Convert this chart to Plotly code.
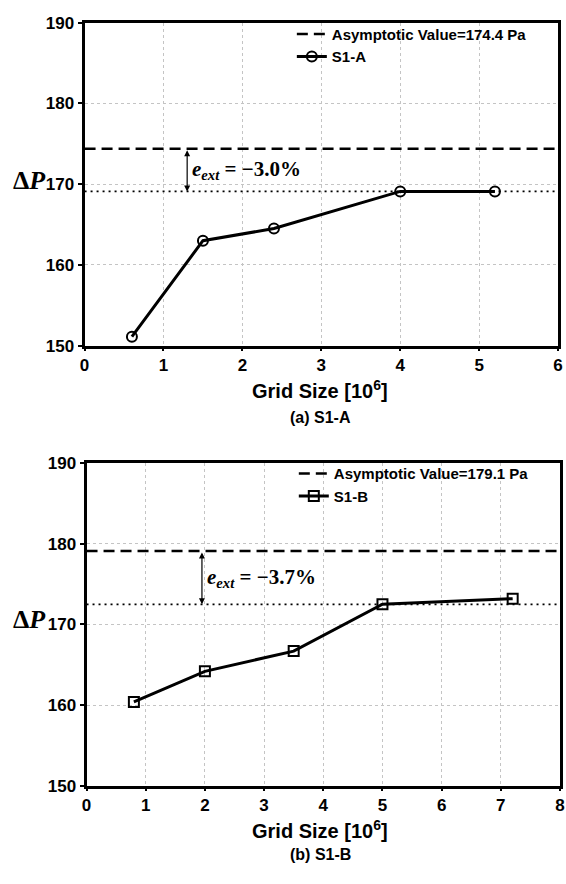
import plotly.graph_objects as go

# Grid convergence data, case S1-A
grid_a = [0.6, 1.5, 2.4, 4.0, 5.2]
dp_a = [151.1, 163.0, 164.5, 169.1, 169.1]
asym_a = 174.4
err_a = "−3.0%"

# Grid convergence data, case S1-B
grid_b = [0.8, 2.0, 3.5, 5.0, 7.2]
dp_b = [160.4, 164.2, 166.7, 172.5, 173.2]
asym_b = 179.1
err_b = "−3.7%"

xticks_a = [0, 1, 2, 3, 4, 5, 6]
xticks_b = [0, 1, 2, 3, 4, 5, 6, 7, 8]
yticks = [150, 160, 170, 180, 190]

arrow_x_a, arrow_x_b = 1.3, 1.95

SANS = "Liberation Sans, Arial, sans-serif"
SERIF = "Liberation Serif, Times New Roman, serif"

fig = go.Figure()


def add_panel(xs, ys, asym, xmax, name, symbol, msize, xa, ya, legend):
    fig.add_trace(go.Scatter(
        x=[0, xmax], y=[asym, asym], mode="lines",
        line=dict(color="black", width=2.5, dash="11px,6px"),
        name=f"<b>Asymptotic Value={asym} Pa</b>", xaxis=xa, yaxis=ya, legend=legend))
    fig.add_trace(go.Scatter(
        x=[0, xmax], y=[ys[-2], ys[-2]], mode="lines",
        line=dict(color="black", width=1.8, dash="2px,4px"),
        showlegend=False, xaxis=xa, yaxis=ya, hoverinfo="skip"))
    fig.add_trace(go.Scatter(
        x=xs, y=ys, mode="lines+markers", name=f"<b>{name}</b>",
        line=dict(color="black", width=3),
        marker=dict(symbol=symbol, size=msize, color="black",
                    line=dict(color="black", width=2)),
        xaxis=xa, yaxis=ya, legend=legend))


add_panel(grid_a, dp_a, asym_a, xticks_a[-1], "S1-A", "circle-open", 10, "x", "y", "legend")
add_panel(grid_b, dp_b, asym_b, xticks_b[-1], "S1-B", "square-open", 10, "x2", "y2", "legend2")

axis_common = dict(
    showline=True, linecolor="black", linewidth=3, mirror=True,
    showgrid=True, gridcolor="#c4c4c4", griddash="dot", gridwidth=1,
    ticks="outside", tickwidth=2, tickcolor="black",
    tickfont=dict(family=SANS, size=17, color="black"),
    zeroline=False,
)


def xaxis(ticks, dom, anchor):
    return dict(axis_common, domain=dom, range=[ticks[0], ticks[-1]], anchor=anchor,
                tickvals=ticks, ticktext=[f"<b>{t}</b>" for t in ticks], ticklen=2)


def yaxis(dom, anchor):
    return dict(axis_common, domain=dom, range=[yticks[0], yticks[-1]], anchor=anchor,
                tickvals=yticks, ticktext=[f"<b>{t}</b>" for t in yticks], ticklen=4)


legend_font = dict(family=SANS, size=15, color="black")

fig.update_layout(
    width=566, height=884,
    margin=dict(l=0, r=0, t=0, b=0),
    paper_bgcolor="white", plot_bgcolor="white",
    xaxis=xaxis(xticks_a, [81 / 566, 563 / 566], "y"),
    yaxis=yaxis([540 / 884, 870 / 884], "x"),
    xaxis2=xaxis(xticks_b, [83 / 566, 565 / 566], "y2"),
    yaxis2=yaxis([90 / 884, 420 / 884], "x2"),
    legend=dict(x=292 / 566, y=1 - 9 / 884, xanchor="left", yanchor="top",
                bgcolor="rgba(0,0,0,0)", tracegroupgap=0, font=legend_font),
    legend2=dict(x=294 / 566, y=1 - 458 / 884, xanchor="left", yanchor="top",
                 bgcolor="rgba(0,0,0,0)", tracegroupgap=0, font=legend_font),
    showlegend=True,
)

annotations = []
for xa, ya, ax_x, asym, ys, err in [
    ("x", "y", arrow_x_a, asym_a, dp_a, err_a),
    ("x2", "y2", arrow_x_b, asym_b, dp_b, err_b),
]:
    low = ys[-2]
    # double-headed arrow between the asymptote and the converged value
    annotations.append(dict(
        x=ax_x, y=low, ax=ax_x, ay=asym, xref=xa, yref=ya, axref=xa, ayref=ya,
        showarrow=True, arrowhead=2, startarrowhead=2, arrowside="end+start",
        arrowsize=1, arrowwidth=1.2, arrowcolor="black", text=""))
    annotations.append(dict(
        x=ax_x, y=(asym + low) / 2, xref=xa, yref=ya, xanchor="left", yanchor="middle",
        xshift=3, showarrow=False,
        text=f"<b><i>e<sub>ext</sub></i> = {err}</b>",
        font=dict(family=SERIF, size=21, color="black")))

# axis titles and panel captions
for ty, cy, cap in [(389, 417, "(a) S1-A"), (839, 864, "(b) S1-B")]:
    annotations.append(dict(
        x=321 / 566, y=1 - ty / 884, xref="paper", yref="paper", showarrow=False,
        text="<b>Grid Size [10<sup>6</sup>]</b>",
        font=dict(family=SANS, size=20, color="black"),
        xanchor="center", yanchor="middle"))
    annotations.append(dict(
        x=321 / 566, y=1 - cy / 884, xref="paper", yref="paper", showarrow=False,
        text=f"<b>{cap}</b>", font=dict(family=SANS, size=16, color="black"),
        xanchor="center", yanchor="middle"))

for yv in [175, 624]:
    annotations.append(dict(
        x=25 / 566, y=1 - yv / 884, xref="paper", yref="paper", showarrow=False,
        text="<b>Δ<i>P</i></b>", font=dict(family=SERIF, size=26, color="black"),
        xanchor="center", yanchor="middle"))

fig.update_layout(annotations=annotations)

fig.write_html("out.html")
